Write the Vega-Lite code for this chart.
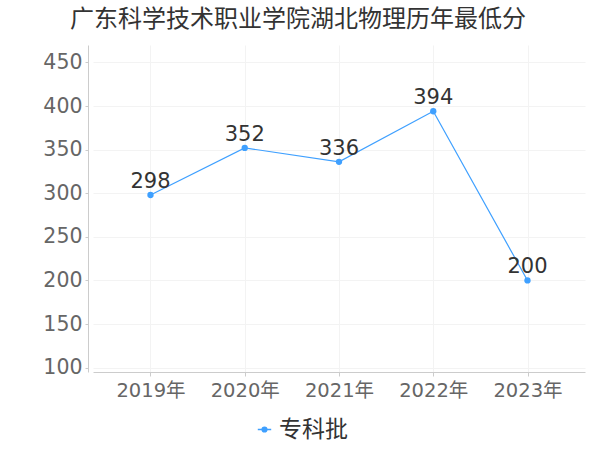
{
  "$schema": "https://vega.github.io/schema/vega-lite/v6.json",
  "autosize": "none",
  "width": 492,
  "height": 327,
  "padding": {"left": 93, "top": 45, "right": 15, "bottom": 78},
  "background": "white",
  "title": {
    "text": "广东科学技术职业学院湖北物理历年最低分",
    "anchor": "start",
    "frame": "group",
    "dx": -23,
    "offset": 13,
    "fontSize": 24,
    "fontWeight": "normal",
    "color": "#333333",
    "font": "DejaVu Sans, Noto Sans CJK SC"
  },
  "config": {
    "view": {"stroke": null},
    "font": "DejaVu Sans, Noto Sans CJK SC"
  },
  "data": {
    "values": [
      {"year": "2019年", "score": 298, "batch": "专科批"},
      {"year": "2020年", "score": 352, "batch": "专科批"},
      {"year": "2021年", "score": 336, "batch": "专科批"},
      {"year": "2022年", "score": 394, "batch": "专科批"},
      {"year": "2023年", "score": 200, "batch": "专科批"}
    ]
  },
  "encoding": {
    "x": {
      "field": "year",
      "type": "ordinal",
      "scale": {"type": "point", "padding": 0.61},
      "axis": {
        "title": null,
        "labelAngle": 0,
        "labelFontSize": 19.5,
        "labelColor": "#666666",
        "labelPadding": 5,
        "domainColor": "#cccccc",
        "tickColor": "#cccccc",
        "tickSize": 4,
        "grid": true,
        "gridColor": "#f3f3f3"
      }
    },
    "y": {
      "field": "score",
      "type": "quantitative",
      "scale": {"domain": [95, 470], "nice": false, "zero": false},
      "axis": {
        "title": null,
        "values": [100, 150, 200, 250, 300, 350, 400, 450],
        "offset": 5,
        "labelFontSize": 20.5,
        "labelColor": "#666666",
        "labelPadding": 3,
        "domainColor": "#cccccc",
        "tickColor": "#cccccc",
        "tickSize": 3,
        "gridColor": "#f3f3f3"
      }
    }
  },
  "layer": [
    {
      "mark": {"type": "line", "color": "#3fa0ff", "strokeWidth": 1.2},
      "encoding": {
        "color": {
          "field": "batch",
          "type": "nominal",
          "scale": {"range": ["#3fa0ff"]},
          "legend": {
            "title": null,
            "orient": "none",
            "legendX": 160,
            "legendY": 373,
            "labelFontSize": 23,
            "labelColor": "#333333",
            "symbolType": "M-1,0L1,0M-0.35,0A0.35,0.35 0 1,0 0.35,0A0.35,0.35 0 1,0 -0.35,0Z",
            "symbolSize": 180,
            "symbolStrokeWidth": 1.5,
            "symbolFillColor": "#3fa0ff",
            "symbolStrokeColor": "#3fa0ff",
            "labelOffset": 3
          }
        }
      }
    },
    {
      "mark": {"type": "point", "filled": true, "size": 40, "color": "#3fa0ff", "opacity": 1}
    },
    {
      "mark": {"type": "text", "dy": -13, "fontSize": 21, "color": "#333333"},
      "encoding": {"text": {"field": "score", "type": "quantitative"}}
    }
  ]
}
